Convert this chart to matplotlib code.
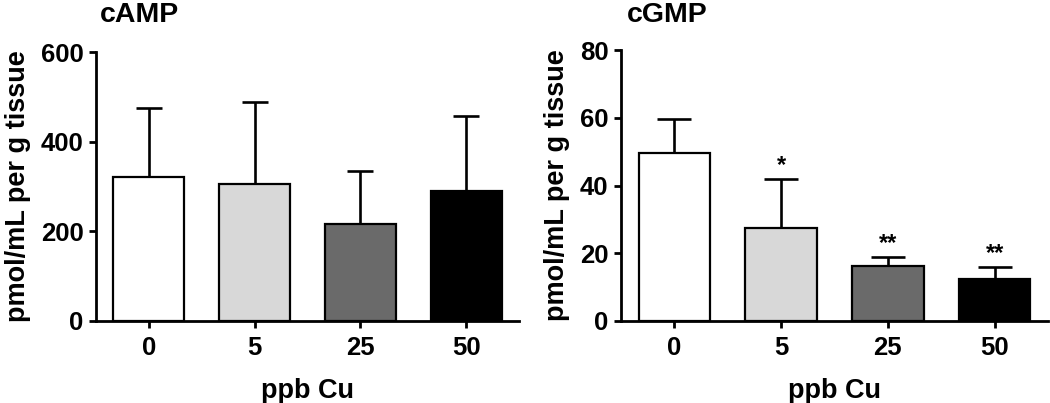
import matplotlib
matplotlib.use("Agg")
import matplotlib.pyplot as plt

plt.rcParams["font.family"] = ["Liberation Sans", "DejaVu Sans"]
plt.rcParams["font.weight"] = "bold"

# ── data ─────────────────────────────────────────────────────
doses = ["0", "5", "25", "50"]
camp_mean = [321, 305, 216, 290]
camp_err = [154, 183, 119, 167]
cgmp_mean = [49.6, 27.5, 16.2, 12.4]
cgmp_err = [10.0, 14.4, 2.7, 3.5]
cgmp_stars = ["", "*", "**", "**"]

bar_colors = ["#ffffff", "#d8d8d8", "#6a6a6a", "#000000"]

W, H = 1050, 403
fig = plt.figure(figsize=(W / 100, H / 100), dpi=100)
ax_l = fig.add_axes([96 / W, 1 - 321 / H, (519 - 96) / W, (321 - 52) / H])
ax_r = fig.add_axes([621 / W, 1 - 321 / H, (1048 - 621) / W, (321 - 50) / H])


def draw_panel(ax, means, errs, ymax, yticks, capsize):
    x = list(range(len(means)))
    ax.bar(x, means, width=0.67, color=bar_colors, edgecolor="black",
           linewidth=1.6, zorder=2)
    eb = ax.errorbar(x, means, yerr=[[0] * len(errs), errs], fmt="none",
                     ecolor="black", elinewidth=1.9, capsize=capsize,
                     capthick=1.9, zorder=3)
    # only the upper cap, as in the original figure
    eb[1][0].set_visible(False)
    ax.set_xlim(-0.5, 3.5)
    ax.set_ylim(0, ymax)
    ax.set_yticks(yticks)
    ax.set_xticks(x)
    ax.set_xticklabels(doses)
    for s in ("top", "right"):
        ax.spines[s].set_visible(False)
    for s in ("left", "bottom"):
        ax.spines[s].set_linewidth(2.0)
    ax.tick_params(axis="both", direction="out", length=5, width=2.0,
                   labelsize=18.5)
    ax.tick_params(axis="x", pad=6)
    ax.tick_params(axis="y", pad=4)
    ax.set_xlabel("ppb Cu", fontsize=19.5, fontweight="bold", labelpad=13)
    ax.set_ylabel("pmol/mL per g tissue", fontsize=19.5, fontweight="bold",
                  labelpad=7)


draw_panel(ax_l, camp_mean, camp_err, 600, [0, 200, 400, 600], 9.5)
draw_panel(ax_r, cgmp_mean, cgmp_err, 80, [0, 20, 40, 60, 80], 12)

for i, star in enumerate(cgmp_stars):
    if star:
        ax_r.annotate(star, (i, cgmp_mean[i] + cgmp_err[i]),
                      xytext=(0, 10), textcoords="offset points",
                      ha="center", va="center", fontsize=17,
                      fontweight="bold")

fig.text(100 / W, 1 - 22 / H, "cAMP", fontsize=20.5, fontweight="bold",
         va="baseline")
fig.text(627 / W, 1 - 22 / H, "cGMP", fontsize=20.5, fontweight="bold",
         va="baseline")

fig.savefig("out.png", dpi=100, facecolor="white")
